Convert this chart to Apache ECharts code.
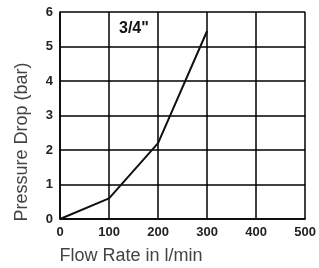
<!DOCTYPE html>
<html>
<head>
<meta charset="utf-8">
<script src="https://cdn.jsdelivr.net/npm/echarts@6/dist/echarts.min.js"></script>
<style>
    html, body {margin: 0; padding: 0; background: #fff;}
    #chart {width: 319px; height: 268px;}
</style>
</head>
<body>
<div id="chart"></div>
<script>
// 3/4" 压降曲线
const flowRate = [0, 100, 200, 300];
const pressureDrop = [0, 0.6, 2.2, 5.45];
const xTicks = [0, 100, 200, 300, 400, 500];
const yTicks = [0, 1, 2, 3, 4, 5, 6];

let myChart = echarts.init(document.getElementById('chart'));
let option = {
    animation: false,
    grid: {
        left: 60,
        right: 11,
        top: 12,
        bottom: 49
    },
    title: {
        text: '3/4"',
        left: 119,
        top: 21,
        padding: 0,
        textStyle: {fontSize: 16, fontWeight: 'bold', color: '#111', fontFamily: 'Arial, Liberation Sans'}
    },
    graphic: [
        {
            // 纵轴名称
            type: 'text',
            x: 22,
            y: 142,
            rotation: Math.PI / 2,
            style: {
                text: 'Pressure Drop (bar)',
                fontSize: 18,
                fill: '#444',
                fontFamily: 'Arial, Liberation Sans',
                align: 'center',
                verticalAlign: 'middle'
            }
        },
        {
            // 横轴名称
            type: 'text',
            x: 131,
            y: 256,
            style: {
                text: 'Flow Rate in l/min',
                fontSize: 18,
                fill: '#444',
                fontFamily: 'Arial, Liberation Sans',
                align: 'center',
                verticalAlign: 'middle'
            }
        }
    ],
    xAxis: {
        type: 'value',
        min: xTicks[0],
        max: xTicks[xTicks.length - 1],
        interval: 100,
        axisLine: {lineStyle: {color: '#000', width: 1.5}},
        axisTick: {show: false},
        axisLabel: {fontSize: 13, color: '#222', fontWeight: 'bold', margin: 7, fontFamily: 'Arial, Liberation Sans'},
        splitLine: {lineStyle: {color: '#000', width: 1.5}}
    },
    yAxis: {
        type: 'value',
        min: yTicks[0],
        max: yTicks[yTicks.length - 1],
        interval: 1,
        axisLine: {show: true, lineStyle: {color: '#000', width: 1.5}},
        axisTick: {show: false},
        axisLabel: {fontSize: 13, color: '#222', fontWeight: 'bold', margin: 7, fontFamily: 'Arial, Liberation Sans'},
        splitLine: {lineStyle: {color: '#000', width: 1.5}}
    },
    series: [
        {
            type: 'line',
            data: flowRate.map((x, i) => [x, pressureDrop[i]]),
            symbol: 'none',
            lineStyle: {color: '#111', width: 2}
        }
    ]
};
myChart.setOption(option, true);
</script>
</body>
</html>
